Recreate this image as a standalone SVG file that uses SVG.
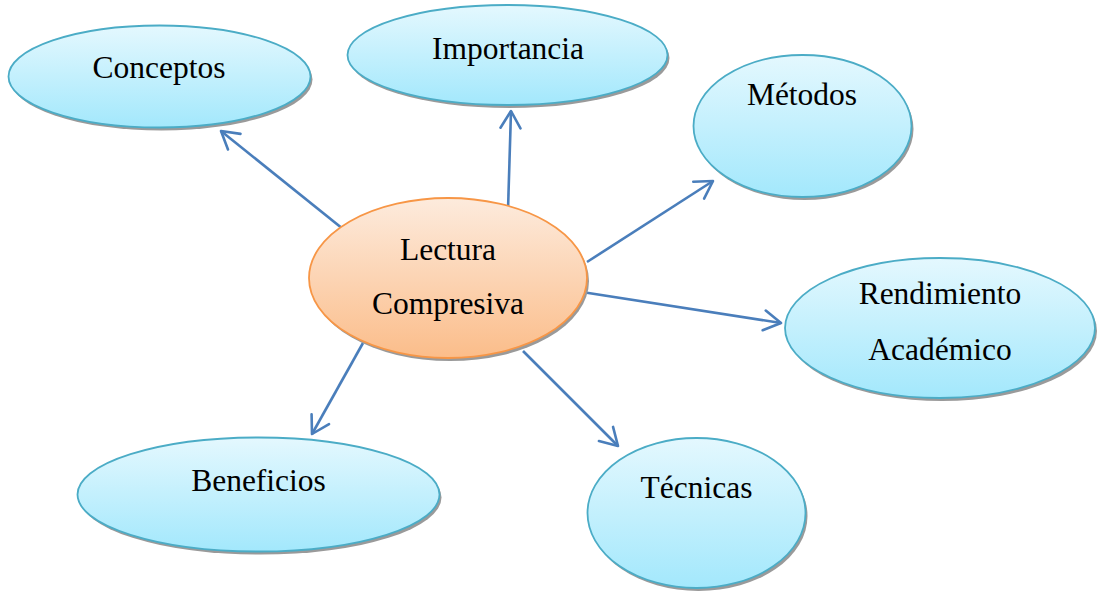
<svg xmlns="http://www.w3.org/2000/svg" width="1097" height="593" viewBox="0 0 1097 593">
<defs>
<linearGradient id="gBlue" x1="0" y1="0" x2="0" y2="1">
<stop offset="0" stop-color="#e4f8fe"/>
<stop offset="1" stop-color="#a3e8fc"/>
</linearGradient>
<linearGradient id="gOrange" x1="0" y1="0" x2="0" y2="1">
<stop offset="0" stop-color="#fdebdd"/>
<stop offset="1" stop-color="#fbbd8a"/>
</linearGradient>
<marker id="arr" markerUnits="userSpaceOnUse" markerWidth="40" markerHeight="40" viewBox="-20 -20 40 40" refX="0" refY="0" orient="auto">
<path d="M -17,-10 L 0,0 L -17,10" fill="none" stroke="#4a7ebb" stroke-width="2.6" stroke-linecap="round" stroke-linejoin="round"/>
</marker>
</defs>
<style>
.shadow { fill: #9a9a9a; }
.blue { fill: url(#gBlue); stroke: #4bacc6; stroke-width: 1.8; }
.orange { fill: url(#gOrange); stroke: #f79646; stroke-width: 1.8; }
.lbl { font-family: "Liberation Serif", "Times New Roman", serif; font-size: 31.5px; fill: #000; text-anchor: middle; }
.conn { stroke: #4a7ebb; stroke-width: 2.6; fill: none; marker-end: url(#arr); }
</style>
<rect width="1097" height="593" fill="#ffffff"/>
<g id="connectors">
<line class="conn" x1="348" y1="233" x2="221" y2="131"/>
<line class="conn" x1="508" y1="210" x2="511" y2="111"/>
<line class="conn" x1="587" y1="262" x2="713" y2="181"/>
<line class="conn" x1="582" y1="292" x2="781" y2="323"/>
<line class="conn" x1="363" y1="343" x2="312" y2="434"/>
<line class="conn" x1="523" y1="351" x2="618" y2="446"/>
</g>
<g id="conceptos">
<ellipse class="shadow" cx="161.5" cy="79.5" rx="151" ry="51"/>
<ellipse class="blue" cx="159.5" cy="76.5" rx="151" ry="51"/>
<text class="lbl" x="159" y="78">Conceptos</text>
</g>
<g id="importancia">
<ellipse class="shadow" cx="509.5" cy="58" rx="160" ry="50"/>
<ellipse class="blue" cx="507.5" cy="55" rx="160" ry="50"/>
<text class="lbl" x="508" y="59">Importancia</text>
</g>
<g id="metodos">
<ellipse class="shadow" cx="804.5" cy="129" rx="109" ry="71"/>
<ellipse class="blue" cx="802.5" cy="126" rx="109" ry="71"/>
<text class="lbl" x="802" y="105">Métodos</text>
</g>
<g id="rendimiento">
<ellipse class="shadow" cx="942" cy="331" rx="155" ry="70"/>
<ellipse class="blue" cx="940" cy="328" rx="155" ry="70"/>
<text class="lbl" x="940" y="304">Rendimiento</text>
<text class="lbl" x="940" y="360">Académico</text>
</g>
<g id="lectura">
<ellipse class="shadow" cx="450" cy="281" rx="139" ry="80"/>
<ellipse class="orange" cx="448" cy="278" rx="139" ry="80"/>
<text class="lbl" x="448" y="260">Lectura</text>
<text class="lbl" x="448" y="314">Compresiva</text>
</g>
<g id="beneficios">
<ellipse class="shadow" cx="260.5" cy="497.5" rx="181" ry="57"/>
<ellipse class="blue" cx="258.5" cy="494.5" rx="181" ry="57"/>
<text class="lbl" x="258.5" y="491">Beneficios</text>
</g>
<g id="tecnicas">
<ellipse class="shadow" cx="698.5" cy="516" rx="109" ry="75"/>
<ellipse class="blue" cx="696.5" cy="513" rx="109" ry="75"/>
<text class="lbl" x="696.5" y="498">Técnicas</text>
</g>
</svg>
